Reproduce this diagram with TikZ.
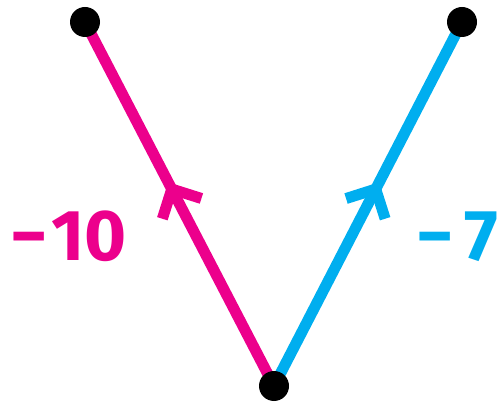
\documentclass[tikz,border=0pt]{standalone}
\usepackage{fontspec}
\setmainfont{Fira Sans}
\usepackage{tikz}
\usetikzlibrary{arrows.meta, decorations.markings}
\definecolor{pinkmain}{RGB}{236, 0, 140}
\definecolor{cyanmain}{RGB}{0, 174, 239}

\tikzset{
  vertex/.style={circle, fill=black, inner sep=0pt, minimum size=30pt},
  edgeline/.style={line width=11pt, line cap=round,
    postaction={decorate, decoration={markings,
      mark=at position 0.56 with {\arrow{Straight Barb[length=22pt, width=44pt]}}}}},
  weight/.style={inner sep=0pt, font=\fontsize{72}{72}\selectfont\bfseries}
}

\begin{document}
\begin{tikzpicture}[x=1pt, y=1pt]
  \useasboundingbox (0,0) rectangle (501,402);
  \coordinate (left) at (85,380);
  \coordinate (right) at (462,380);
  \coordinate (root) at (274,16);

  \draw[edgeline, pinkmain] (root) -- (left);
  \draw[edgeline, cyanmain] (root) -- (right);

  \node[vertex] (leftdot) at (left) {};
  \node[vertex] (rightdot) at (right) {};
  \node[vertex] (rootdot) at (root) {};

  \node[weight, text=pinkmain, anchor=base west] (leftw) at (10,141) {−\kern4pt 10};
  \node[weight, text=cyanmain, anchor=base east] (rightw) at (498,141) {−\kern10pt 7};
\end{tikzpicture}
\end{document}
